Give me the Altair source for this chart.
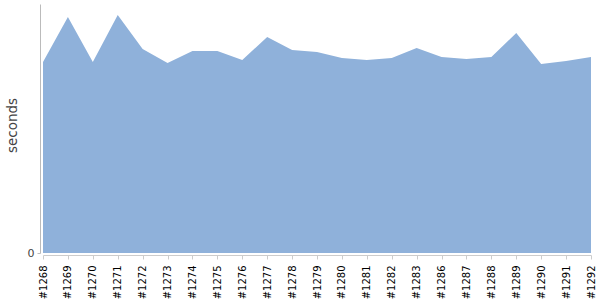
import altair as alt
import pandas as pd

builds = ["#1268", "#1269", "#1270", "#1271", "#1272", "#1273", "#1274", "#1275",
          "#1276", "#1277", "#1278", "#1279", "#1280", "#1281", "#1282", "#1283",
          "#1286", "#1287", "#1288", "#1289", "#1290", "#1291", "#1292"]
seconds = [191, 236, 191, 238, 204, 190, 202, 202,
           193, 216, 203, 201, 195, 193, 195, 205,
           196, 194, 196, 220, 189, 192, 196]

df = pd.DataFrame({"build": builds, "seconds": seconds})

chart = alt.Chart(df).mark_area(color="#8fb1da", opacity=1, interpolate="linear").encode(
    x=alt.X("build:N", sort=builds, title=None,
            scale=alt.Scale(type="point", padding=0),
            axis=alt.Axis(labelAngle=270, labelFont="DejaVu Sans", labelFontSize=10,
                          labelColor="#000", domainColor="#ccc", tickColor="#ccc",
                          tickSize=4, offset=2, labelPadding=6, grid=False)),
    y=alt.Y("seconds:Q", title="seconds",
            scale=alt.Scale(domain=[0, 249], nice=False, zero=True),
            axis=alt.Axis(values=[0], grid=False, offset=3, domainColor="#bbb",
                          tickColor="#bbb", tickSize=3, labelFont="DejaVu Sans",
                          labelFontSize=11, labelColor="#444", labelPadding=3,
                          titleFont="DejaVu Sans", titleFontSize=13.5,
                          titleFontWeight="normal", titleColor="#444", titlePadding=8,
                          titleY=121)),
).properties(
    width=548, height=249,
    autosize=alt.AutoSizeParams(type="none"),
    padding={"left": 43, "top": 4, "right": 9, "bottom": 47},
).configure_view(stroke=None)

chart.save("out.html", embed_options={"renderer": "svg", "actions": False})
